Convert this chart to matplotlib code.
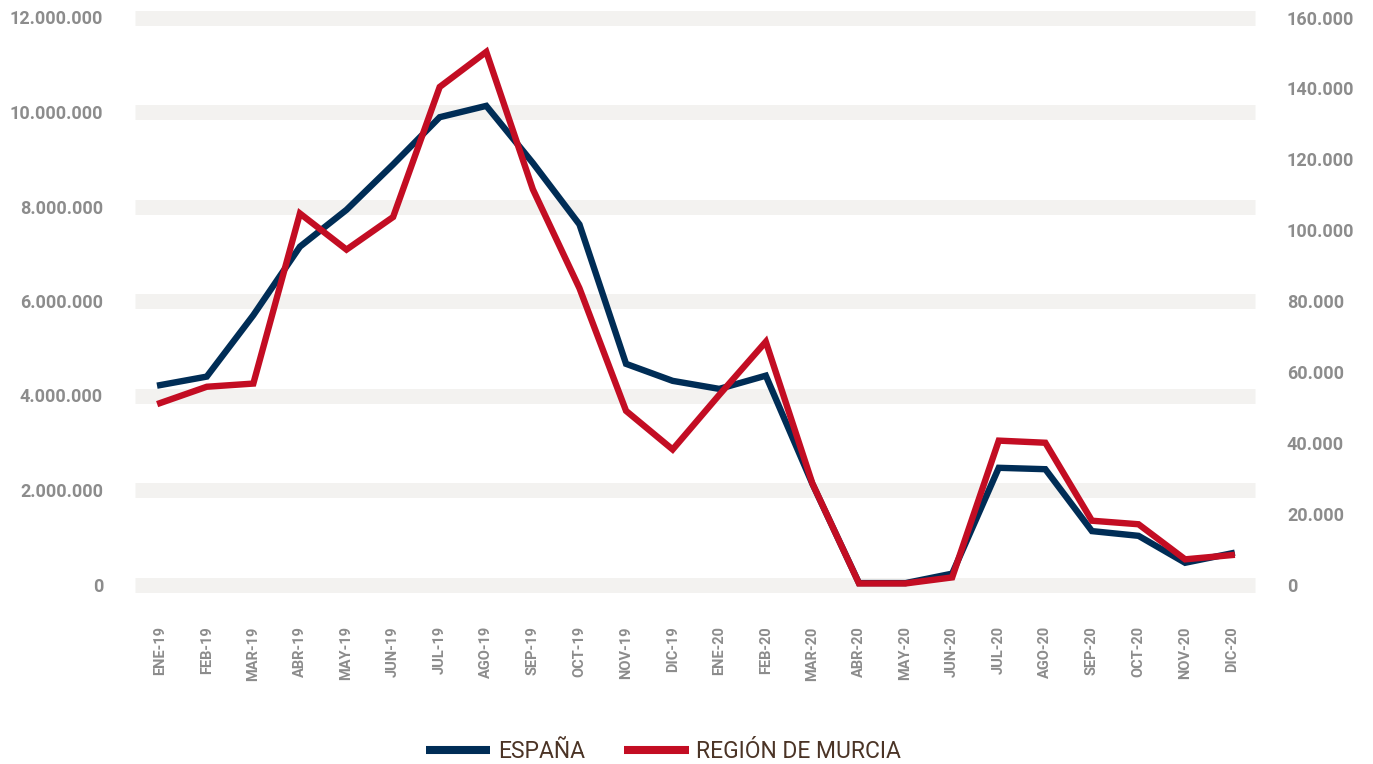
import matplotlib
matplotlib.use("Agg")
import matplotlib.pyplot as plt
from matplotlib.lines import Line2D
from matplotlib.ticker import FuncFormatter

months = ["ENE-19", "FEB-19", "MAR-19", "ABR-19", "MAY-19", "JUN-19", "JUL-19", "AGO-19",
          "SEP-19", "OCT-19", "NOV-19", "DIC-19", "ENE-20", "FEB-20", "MAR-20", "ABR-20",
          "MAY-20", "JUN-20", "JUL-20", "AGO-20", "SEP-20", "OCT-20", "NOV-20", "DIC-20"]

espana = [4220000, 4400000, 5700000, 7150000, 7930000, 8890000, 9890000, 10130000,
          8920000, 7620000, 4670000, 4310000, 4140000, 4420000, 2130000, 30000,
          30000, 230000, 2470000, 2440000, 1130000, 1030000, 460000, 660000]

murcia = [51200, 55800, 56700, 104700, 94500, 103700, 140400, 150300,
          111500, 83600, 49000, 38100, 53500, 68500, 28500, 300,
          300, 2000, 40600, 40000, 18000, 17000, 7100, 8300]

left_ticks = [0, 2000000, 4000000, 6000000, 8000000, 10000000, 12000000]
right_ticks = [0, 20000, 40000, 60000, 80000, 100000, 120000, 140000, 160000]

NAVY = "#002d56"
RED = "#c30d23"
GRAY_TXT = "#8c8c8c"
BAND = "#f3f2f0"
LEG_TXT = "#4b3426"

W, H = 1373, 764
fig = plt.figure(figsize=(W / 100, H / 100), dpi=100)
ax_l, ax_r, ax_t, ax_b = 135, 1255, 17.5, 584.5
ax = fig.add_axes([ax_l / W, 1 - ax_b / H, (ax_r - ax_l) / W, (ax_b - ax_t) / H])
ax2 = ax.twinx()

def dots(v, pos=None):
    return f"{int(round(v)):,}".replace(",", ".")

x = list(range(len(months)))
ax.set_xlim(-0.54, 23.5)
ax.set_ylim(0, 12000000)
ax2.set_ylim(0, 160000)

for t in left_ticks:
    ax.axhline(t, color=BAND, lw=10.8, zorder=0, clip_on=False, solid_capstyle="butt")

ax2.plot(x, murcia, color=RED, lw=4.6, zorder=3, solid_joinstyle="miter", clip_on=False)
ax.plot(x, espana, color=NAVY, lw=4.6, zorder=2, solid_joinstyle="miter", clip_on=False)
ax.patch.set_visible(False)

for a in (ax, ax2):
    for s in a.spines.values():
        s.set_visible(False)
    a.tick_params(length=0)

ax.set_yticks(left_ticks)
ax.yaxis.set_major_formatter(FuncFormatter(dots))
ax2.set_yticks(right_ticks)
ax2.yaxis.set_major_formatter(FuncFormatter(dots))

tick_font = dict(family="Roboto", weight="bold", size=13)
for lbl in ax.get_yticklabels():
    lbl.set(color=GRAY_TXT, **tick_font)
for lbl in ax2.get_yticklabels():
    lbl.set(color=GRAY_TXT, **tick_font)
ax.tick_params(axis="y", pad=23)
ax2.tick_params(axis="y", pad=23)

ax.set_xticks(x)
ax.set_xticklabels(months, rotation=90, family="Roboto", weight="bold", size=10.5, color=GRAY_TXT)
ax.tick_params(axis="x", pad=30)

# legend
ly = 1 - 750 / H
lt = 1 - 752 / H
fig.add_artist(Line2D([426 / W, 490 / W], [ly, ly], color=NAVY, lw=5.8,
                      solid_capstyle="butt", transform=fig.transFigure))
fig.text(498 / W, lt, "ESPAÑA", family="Roboto", size=16.5, color=LEG_TXT, va="center", ha="left")
fig.add_artist(Line2D([624 / W, 689 / W], [ly, ly], color=RED, lw=5.8,
                      solid_capstyle="butt", transform=fig.transFigure))
fig.text(696 / W, lt, "REGIÓN DE MURCIA", family="Roboto", size=16.5, color=LEG_TXT, va="center", ha="left")

fig.savefig("out.png", dpi=100, facecolor="white")
